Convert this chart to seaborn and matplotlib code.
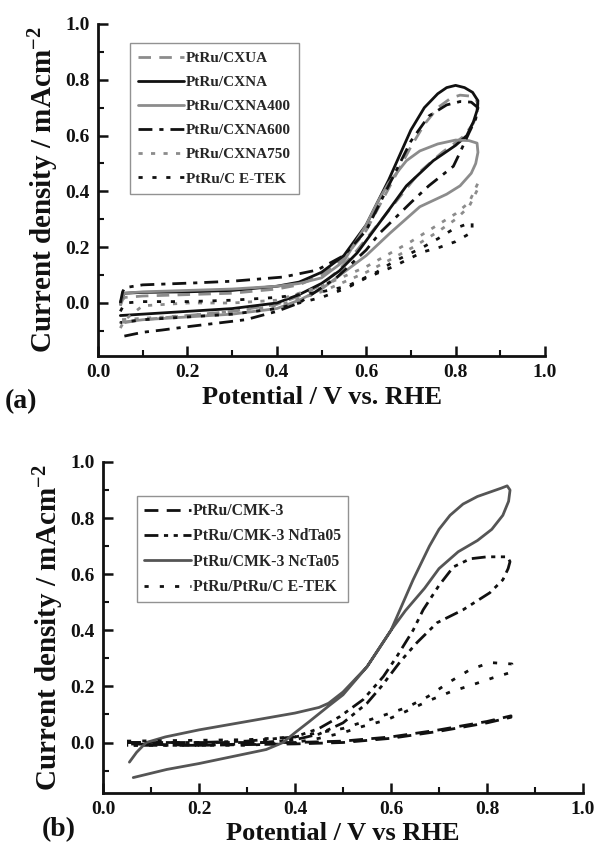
import numpy as np
import pandas as pd
import matplotlib
matplotlib.use("Agg")
import matplotlib.pyplot as plt
import seaborn as sns
from matplotlib.ticker import MultipleLocator

# ---------------- data: panel (a) ----------------
a_labels = ["PtRu/CXUA", "PtRu/CXNA", "PtRu/CXNA400", "PtRu/CXNA600", "PtRu/CXNA750", "PtRu/C E-TEK"]

# each curve: branch 1 (x1, y1) then branch 2 (x2, y2) forming the CV loop
cxua_x1 = [0.05, 0.055, 0.06, 0.10, 0.20, 0.30, 0.40, 0.45, 0.50, 0.55, 0.60, 0.65, 0.70, 0.73, 0.76, 0.79, 0.81, 0.83, 0.845, 0.85]
cxua_y1 = [-0.01, 0.012, 0.02, 0.025, 0.03, 0.035, 0.05, 0.065, 0.10, 0.16, 0.26, 0.41, 0.56, 0.64, 0.70, 0.735, 0.745, 0.742, 0.73, 0.715]
cxua_x2 = [0.85, 0.848, 0.84, 0.82, 0.80, 0.77, 0.72, 0.68, 0.63, 0.58, 0.54, 0.50, 0.45, 0.40, 0.30, 0.20, 0.10, 0.06, 0.05]
cxua_y2 = [0.715, 0.68, 0.645, 0.60, 0.575, 0.54, 0.47, 0.39, 0.29, 0.19, 0.12, 0.065, 0.025, -0.005, -0.03, -0.045, -0.06, -0.07, -0.08]

cxna_x1 = [0.05, 0.055, 0.06, 0.10, 0.20, 0.30, 0.40, 0.45, 0.50, 0.55, 0.60, 0.65, 0.70, 0.73, 0.76, 0.78, 0.80, 0.82, 0.838, 0.85]
cxna_y1 = [0.0, 0.025, 0.035, 0.038, 0.04, 0.045, 0.06, 0.075, 0.11, 0.17, 0.28, 0.44, 0.62, 0.70, 0.75, 0.772, 0.78, 0.772, 0.755, 0.725]
cxna_x2 = [0.85, 0.848, 0.84, 0.825, 0.80, 0.75, 0.69, 0.64, 0.58, 0.54, 0.50, 0.45, 0.40, 0.30, 0.20, 0.10, 0.05]
cxna_y2 = [0.725, 0.69, 0.65, 0.60, 0.565, 0.51, 0.42, 0.31, 0.18, 0.115, 0.07, 0.03, 0.0, -0.02, -0.03, -0.04, -0.045]

cx400_x1 = [0.05, 0.055, 0.06, 0.10, 0.20, 0.30, 0.40, 0.45, 0.50, 0.55, 0.60, 0.625, 0.65, 0.69, 0.72, 0.76, 0.80, 0.83, 0.848]
cx400_y1 = [-0.005, 0.025, 0.035, 0.04, 0.045, 0.05, 0.06, 0.07, 0.09, 0.15, 0.28, 0.36, 0.43, 0.51, 0.545, 0.57, 0.584, 0.582, 0.573]
cx400_x2 = [0.848, 0.85, 0.845, 0.835, 0.81, 0.78, 0.72, 0.653, 0.60, 0.55, 0.50, 0.45, 0.40, 0.30, 0.20, 0.10, 0.05]
cx400_y2 = [0.573, 0.54, 0.50, 0.465, 0.42, 0.39, 0.345, 0.25, 0.17, 0.11, 0.05, 0.01, -0.02, -0.04, -0.05, -0.06, -0.07]

cx600_x1 = [0.05, 0.055, 0.06, 0.10, 0.217, 0.30, 0.414, 0.49, 0.55, 0.60, 0.65, 0.70, 0.74, 0.78, 0.81, 0.835, 0.85]
cx600_y1 = [0.0, 0.04, 0.055, 0.065, 0.072, 0.078, 0.093, 0.118, 0.17, 0.26, 0.42, 0.58, 0.67, 0.71, 0.722, 0.72, 0.70]
cx600_x2 = [0.85, 0.845, 0.83, 0.81, 0.795, 0.74, 0.70, 0.63, 0.60, 0.535, 0.45, 0.40, 0.33, 0.20, 0.143, 0.10, 0.055]
cx600_y2 = [0.70, 0.66, 0.61, 0.54, 0.49, 0.42, 0.36, 0.25, 0.19, 0.093, 0.0, -0.03, -0.06, -0.085, -0.097, -0.105, -0.12]

cx750_x1 = [0.05, 0.06, 0.10, 0.20, 0.30, 0.40, 0.50, 0.60, 0.70, 0.76, 0.80, 0.83, 0.85]
cx750_y1 = [-0.09, -0.06, -0.01, 0.0, 0.0, 0.01, 0.06, 0.13, 0.22, 0.28, 0.32, 0.36, 0.43]
cx750_x2 = [0.85, 0.83, 0.80, 0.76, 0.705, 0.645, 0.60, 0.50, 0.40, 0.30, 0.20, 0.10, 0.05]
cx750_y2 = [0.41, 0.345, 0.30, 0.255, 0.20, 0.148, 0.11, 0.04, -0.01, -0.03, -0.045, -0.055, -0.06]

etka_x1 = [0.05, 0.06, 0.10, 0.20, 0.30, 0.40, 0.50, 0.557, 0.624, 0.66, 0.727, 0.76, 0.795, 0.837]
etka_y1 = [-0.03, 0.0, 0.005, 0.005, 0.01, 0.02, 0.04, 0.06, 0.111, 0.147, 0.20, 0.23, 0.265, 0.29]
etka_x2 = [0.837, 0.80, 0.765, 0.727, 0.66, 0.60, 0.557, 0.50, 0.40, 0.30, 0.20, 0.10, 0.05]
etka_y2 = [0.254, 0.22, 0.20, 0.183, 0.13, 0.09, 0.054, 0.02, -0.02, -0.04, -0.05, -0.06, -0.07]

# ---------------- data: panel (b) ----------------
b_labels = ["PtRu/CMK-3", "PtRu/CMK-3 NdTa05", "PtRu/CMK-3 NcTa05", "PtRu/PtRu/C E-TEK"]

cmk_x1 = [0.05, 0.20, 0.30, 0.40, 0.50, 0.60, 0.70, 0.80, 0.85]
cmk_y1 = [0.0, 0.0, 0.0, 0.0, 0.005, 0.02, 0.045, 0.075, 0.095]
cmk_x2 = [0.85, 0.80, 0.70, 0.60, 0.50, 0.40, 0.20, 0.05]
cmk_y2 = [0.09, 0.07, 0.04, 0.015, 0.0, -0.005, -0.01, -0.005]

nd_x1 = [0.05, 0.20, 0.30, 0.40, 0.45, 0.494, 0.542, 0.584, 0.612, 0.646, 0.667, 0.70, 0.73, 0.765, 0.80, 0.842]
nd_y1 = [0.0, 0.0, 0.005, 0.02, 0.05, 0.093, 0.153, 0.235, 0.306, 0.40, 0.473, 0.56, 0.626, 0.655, 0.662, 0.662]
nd_x2 = [0.842, 0.848, 0.844, 0.833, 0.806, 0.75, 0.696, 0.654, 0.62, 0.58, 0.55, 0.50, 0.45, 0.40, 0.30, 0.20, 0.10, 0.05]
nd_y2 = [0.662, 0.645, 0.62, 0.58, 0.534, 0.473, 0.427, 0.356, 0.29, 0.20, 0.14, 0.07, 0.03, 0.01, -0.005, -0.01, -0.01, -0.01]

nc_x1 = [0.055, 0.07, 0.09, 0.13, 0.20, 0.30, 0.40, 0.45, 0.47, 0.50, 0.55, 0.60, 0.646, 0.68, 0.70, 0.723, 0.75, 0.78, 0.81, 0.83, 0.842, 0.848]
nc_y1 = [-0.07, -0.035, 0.0, 0.02, 0.045, 0.075, 0.105, 0.125, 0.14, 0.18, 0.27, 0.40, 0.58, 0.70, 0.76, 0.81, 0.85, 0.877, 0.895, 0.907, 0.915, 0.90]
nc_x2 = [0.848, 0.845, 0.833, 0.81, 0.78, 0.74, 0.70, 0.67, 0.63, 0.60, 0.55, 0.50, 0.47, 0.43, 0.40, 0.375, 0.34, 0.27, 0.20, 0.133, 0.063]
nc_y2 = [0.90, 0.86, 0.81, 0.76, 0.72, 0.68, 0.62, 0.55, 0.47, 0.40, 0.27, 0.17, 0.13, 0.075, 0.035, 0.0, -0.025, -0.05, -0.075, -0.096, -0.125]

etkb_x1 = [0.05, 0.30, 0.40, 0.50, 0.59, 0.633, 0.677, 0.723, 0.765, 0.806, 0.852]
etkb_y1 = [0.005, 0.01, 0.02, 0.05, 0.10, 0.125, 0.164, 0.217, 0.26, 0.285, 0.28]
etkb_x2 = [0.85, 0.813, 0.77, 0.723, 0.68, 0.63, 0.59, 0.54, 0.50, 0.45, 0.40, 0.30, 0.05]
etkb_y2 = [0.25, 0.231, 0.206, 0.18, 0.15, 0.11, 0.08, 0.057, 0.035, 0.015, 0.0, -0.01, -0.01]

yticks = [0.0, 0.2, 0.4, 0.6, 0.8, 1.0]
xticks = [0.0, 0.2, 0.4, 0.6, 0.8, 1.0]

# ---------------- style ----------------
sns.set_theme(style="ticks")
plt.rcParams["font.family"] = ["Liberation Serif", "DejaVu Serif"]
plt.rcParams["font.weight"] = "bold"
plt.rcParams["mathtext.fontset"] = "custom"
plt.rcParams["mathtext.rm"] = "Liberation Serif:bold"
plt.rcParams["mathtext.bf"] = "Liberation Serif:bold"
plt.rcParams["mathtext.default"] = "rm"

GRAY = "#8c8c8c"
BLACK = "#111111"
DGRAY = "#555555"
LW = 2.0

fig = plt.figure(figsize=(5.99, 8.52), dpi=100)
axA = fig.add_axes([98 / 599, 1 - 356 / 852, (545 - 98) / 599, (356 - 24) / 852])
axB = fig.add_axes([103 / 599, 1 - 793 / 852, (583 - 103) / 599, (793 - 462) / 852])


def loop(x1, y1, x2, y2):
    return pd.DataFrame({"x": list(x1) + list(x2), "y": list(y1) + list(y2)})


a_curves = [
    (cxua_x1, cxua_y1, cxua_x2, cxua_y2, GRAY, (0, (4.5, 3))),
    (cxna_x1, cxna_y1, cxna_x2, cxna_y2, BLACK, "-"),
    (cx400_x1, cx400_y1, cx400_x2, cx400_y2, GRAY, "-"),
    (cx600_x1, cx600_y1, cx600_x2, cx600_y2, BLACK, (0, (5, 2.5, 1.5, 2.5))),
    (cx750_x1, cx750_y1, cx750_x2, cx750_y2, GRAY, (0, (1.5, 3))),
    (etka_x1, etka_y1, etka_x2, etka_y2, BLACK, (0, (1.5, 3.5))),
]
for (x1, y1, x2, y2, c, ls), lab in zip(a_curves, a_labels):
    df = loop(x1, y1, x2, y2)
    sns.lineplot(data=df, x="x", y="y", sort=False, estimator=None, ax=axA,
                 color=c, linestyle=ls, lw=LW, label=lab)

b_curves = [
    (cmk_x1, cmk_y1, cmk_x2, cmk_y2, BLACK, (0, (5, 3))),
    (nd_x1, nd_y1, nd_x2, nd_y2, BLACK, (0, (5, 2, 1.5, 2, 1.5, 2))),
    (nc_x1, nc_y1, nc_x2, nc_y2, DGRAY, "-"),
    (etkb_x1, etkb_y1, etkb_x2, etkb_y2, BLACK, (0, (1.5, 4))),
]
for (x1, y1, x2, y2, c, ls), lab in zip(b_curves, b_labels):
    df = loop(x1, y1, x2, y2)
    sns.lineplot(data=df, x="x", y="y", sort=False, estimator=None, ax=axB,
                 color=c, linestyle=ls, lw=LW, label=lab)

for ax, ymin, xlabel in [(axA, -0.19, "Potential / V vs. RHE"), (axB, -0.18, "Potential / V vs RHE")]:
    ax.set_xlim(0, 1.0)
    ax.set_ylim(ymin, 1.0)
    ax.set_xticks(xticks)
    ax.set_yticks(yticks)
    ax.xaxis.set_minor_locator(MultipleLocator(0.1))
    ax.yaxis.set_minor_locator(MultipleLocator(0.1))
    ax.set_xticklabels([f"{v:.1f}" for v in xticks])
    ax.set_yticklabels([f"{v:.1f}" for v in yticks])
    ax.tick_params(which="major", direction="in", length=7, width=1.8, labelsize=14, colors=BLACK, pad=6)
    ax.tick_params(which="minor", direction="in", length=4, width=1.5, colors=BLACK)
    for lab in ax.get_xticklabels() + ax.get_yticklabels():
        lab.set_fontweight("bold")
    sns.despine(ax=ax)
    for s in ["left", "bottom"]:
        ax.spines[s].set_linewidth(2.0)
        ax.spines[s].set_color(BLACK)
    ax.set_xlabel(xlabel, fontsize=19, fontweight="bold", color=BLACK, labelpad=3)
    ax.set_ylabel("Current density / mAcm$^{-2}$", fontsize=21, fontweight="bold", color=BLACK, labelpad=3)
    ax.grid(False)

legA = axA.legend(loc="upper left", bbox_to_anchor=(130 / 599, 1 - 43 / 852), bbox_transform=fig.transFigure,
                  prop={"family": "Liberation Serif", "weight": "bold", "size": 11},
                  handlelength=3.0, handletextpad=0.1, labelspacing=0.68, borderpad=0.55,
                  frameon=True, fancybox=False, edgecolor="#777777", borderaxespad=0)
legA.get_frame().set_linewidth(1.0)
legB = axB.legend(loc="upper left", bbox_to_anchor=(137 / 599, 1 - 496 / 852), bbox_transform=fig.transFigure,
                  prop={"family": "Liberation Serif", "weight": "bold", "size": 11.3},
                  handlelength=3.0, handletextpad=0.1, labelspacing=0.6, borderpad=0.45,
                  frameon=True, fancybox=False, edgecolor="#777777", borderaxespad=0)
legB.get_frame().set_linewidth(1.0)

fig.text(5 / 599, 1 - 408 / 852, "(a)", fontsize=20, fontweight="bold", color=BLACK)
fig.text(42 / 599, 1 - 836 / 852, "(b)", fontsize=20, fontweight="bold", color=BLACK)

fig.savefig("out.png", dpi=100)
